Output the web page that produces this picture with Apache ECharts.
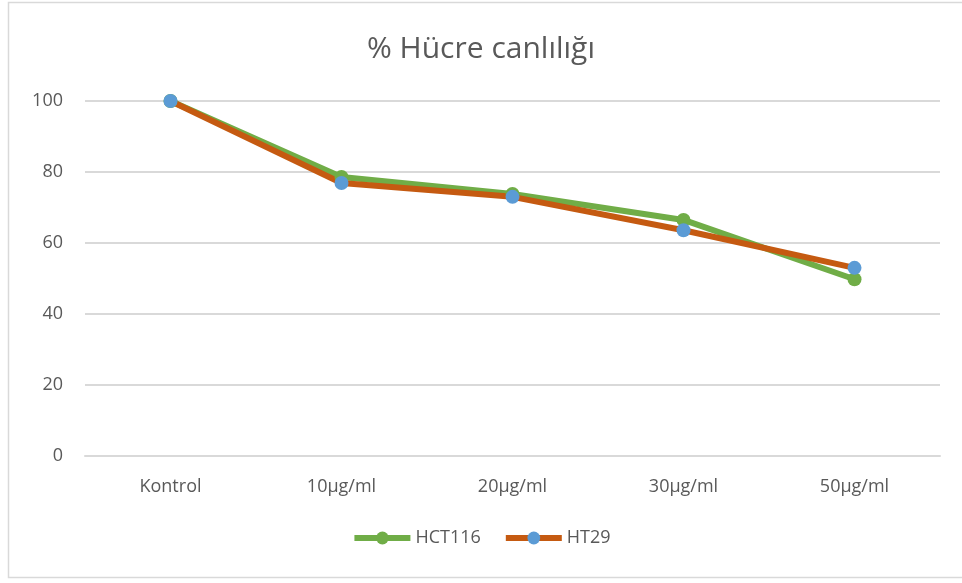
<!DOCTYPE html>
<html>
<head>
<meta charset="utf-8">
<script src="https://cdn.jsdelivr.net/npm/echarts@6/dist/echarts.min.js"></script>
<style>
  html, body { margin: 0; padding: 0; background: #fff; }
  #chart { width: 962px; height: 583px; }
</style>
</head>
<body>
<div id="chart"></div>
<script>
const categories = ['Kontrol', '10µg/ml', '20µg/ml', '30µg/ml', '50µg/ml'];
const hct116 = [100, 78.6, 73.8, 66.5, 49.8];
const ht29 = [100, 76.9, 73.0, 63.6, 53.0];
const yTicks = [0, 20, 40, 60, 80, 100];

const font = '"Open Sans", "Noto Sans", sans-serif';
const textColor = '#595959';

const chart = echarts.init(document.getElementById('chart'));
chart.setOption({
    animation: false
    , graphic: [{
        type: 'rect'
        , shape: {x: 8.5, y: 2.5, width: 980, height: 575}
        , style: {fill: 'none', stroke: '#d9d9d9', lineWidth: 1.5}
        , silent: true
    }]
    , title: {
        text: '% Hücre canlılığı'
        , left: 'center'
        , top: 29
        , textStyle: {fontFamily: font, fontSize: 30, fontWeight: 'normal', color: textColor}
    }
    , grid: {left: 85, right: 22, top: 101, bottom: 127, containLabel: false}
    , legend: {
        bottom: 31
        , left: 'center'
        , itemWidth: 56
        , itemHeight: 16
        , itemGap: 22
        , textStyle: {fontFamily: font, fontSize: 18, color: textColor}
        , data: [
            {name: 'HCT116', lineStyle: {width: 6}}
            , {name: 'HT29', lineStyle: {width: 6}}
        ]
    }
    , xAxis: {
        type: 'category'
        , data: categories
        , boundaryGap: true
        , axisLine: {lineStyle: {color: '#d9d9d9', width: 2}}
        , axisTick: {show: false}
        , axisLabel: {fontFamily: font, fontSize: 18, color: textColor, margin: 22}
    }
    , yAxis: {
        type: 'value'
        , min: yTicks[0]
        , max: yTicks[yTicks.length - 1]
        , interval: yTicks[1] - yTicks[0]
        , axisLine: {show: false}
        , axisTick: {show: false}
        , splitLine: {lineStyle: {color: '#d9d9d9', width: 2}}
        , axisLabel: {fontFamily: font, fontSize: 18, color: textColor, margin: 22}
    }
    , series: [
        {
            name: 'HCT116'
            , type: 'line'
            , data: hct116
            , symbol: 'circle'
            , symbolSize: 14
            , lineStyle: {color: '#70ad47', width: 6}
            , itemStyle: {color: '#70ad47'}
        }
        , {
            name: 'HT29'
            , type: 'line'
            , data: ht29
            , symbol: 'circle'
            , symbolSize: 14
            , lineStyle: {color: '#c55a11', width: 6}
            , itemStyle: {color: '#5b9bd5'}
        }
    ]
});
</script>
</body>
</html>
